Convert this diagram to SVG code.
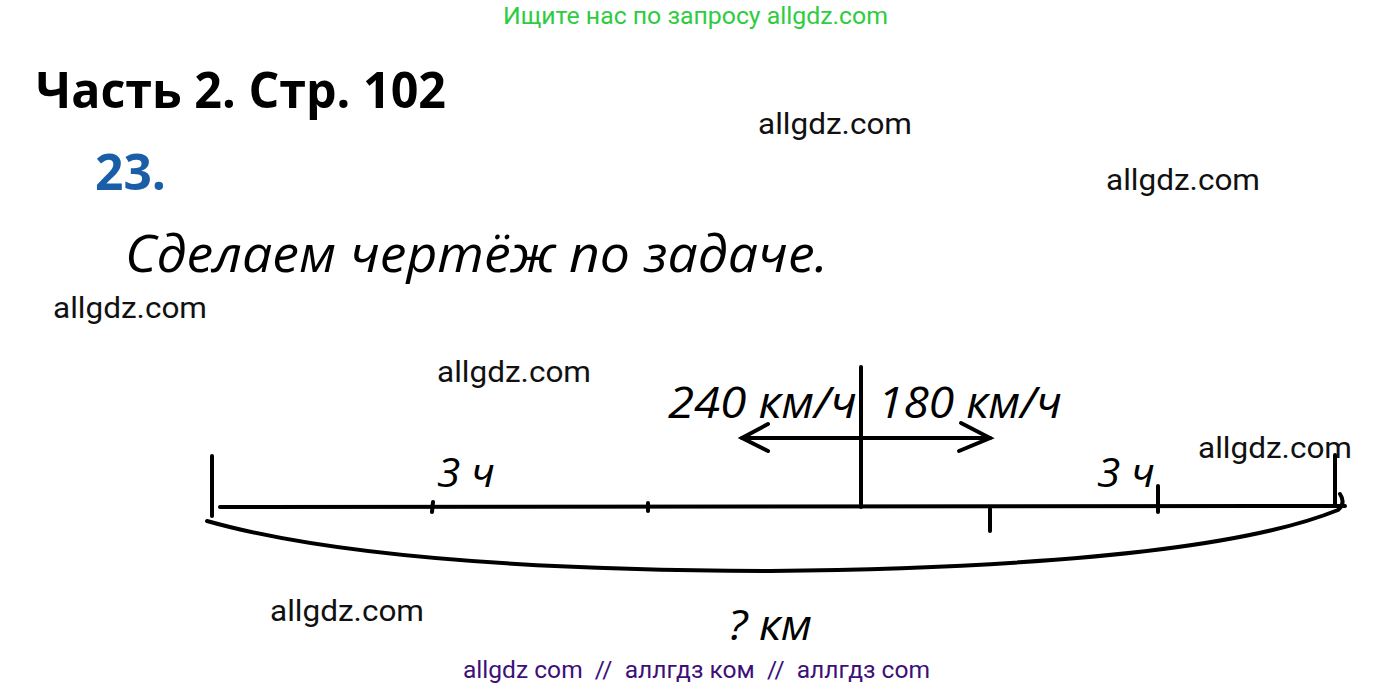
<svg xmlns="http://www.w3.org/2000/svg" width="1395" height="690" viewBox="0 0 1395 690">
<style>
.wm{font-family:Roboto,"Noto Sans",sans-serif;font-size:30px;fill:#111}
.hw{font-family:"Open Sans","Noto Sans",sans-serif;font-style:italic;fill:#000}
.ln{stroke:#000;stroke-width:4;fill:none;stroke-linecap:round}
</style>
<rect width="1395" height="690" fill="#fff"/>
<text x="503" y="24" font-family="Roboto,sans-serif" font-size="24.5" fill="#2ecc40" textLength="385" lengthAdjust="spacingAndGlyphs">Ищите нас по запросу allgdz.com</text>
<g id="title"><text x="36" y="108" font-family="'Open Sans','Noto Sans',sans-serif" font-weight="bold" font-size="50" textLength="410" lengthAdjust="spacingAndGlyphs">Часть 2. Стр. 102</text></g>
<g id="num"><text x="95" y="190" font-family="'Open Sans','Noto Sans',sans-serif" font-weight="bold" font-size="50" fill="#1a5ea8" textLength="71" lengthAdjust="spacingAndGlyphs">23.</text></g>
<g id="heading"><text class="hw" x="125" y="272" font-size="52" textLength="703" lengthAdjust="spacingAndGlyphs">Сделаем чертёж по задаче.</text></g>
<g id="watermarks">
<text class="wm" x="758" y="134" textLength="154" lengthAdjust="spacingAndGlyphs">allgdz.com</text>
<text class="wm" x="1106" y="190" textLength="154" lengthAdjust="spacingAndGlyphs">allgdz.com</text>
<text class="wm" x="53" y="318" textLength="154" lengthAdjust="spacingAndGlyphs">allgdz.com</text>
<text class="wm" x="437" y="382" textLength="154" lengthAdjust="spacingAndGlyphs">allgdz.com</text>
<text class="wm" x="1198" y="458" textLength="154" lengthAdjust="spacingAndGlyphs">allgdz.com</text>
<text class="wm" x="270" y="621" textLength="154" lengthAdjust="spacingAndGlyphs">allgdz.com</text>
</g>
<g id="connectors">
<line class="ln" x1="220" y1="507" x2="1345" y2="506"/>
<line class="ln" x1="212" y1="456" x2="212" y2="516"/>
<line class="ln" x1="433" y1="502" x2="432" y2="512"/>
<line class="ln" x1="648" y1="503" x2="648" y2="511"/>
<line class="ln" x1="861" y1="367" x2="861" y2="507"/>
<line class="ln" x1="990" y1="509" x2="990" y2="531"/>
<line class="ln" x1="1158" y1="486" x2="1158" y2="512"/>
<line class="ln" x1="1335" y1="455" x2="1335" y2="506"/>
<path class="ln" d="M207,521 Q 380,570 770,571 Q 1200,566 1338,510 Q 1346,503 1340,494"/>
<line class="ln" x1="742" y1="438" x2="861" y2="438"/>
<polyline class="ln" points="768,424 742,438 768,451"/>
<line class="ln" x1="861" y1="438" x2="990" y2="438"/>
<polyline class="ln" points="961,423 990,438 959,451"/>
</g>
<g id="speed1"><text class="hw" x="668" y="418" font-size="43" textLength="189" lengthAdjust="spacingAndGlyphs">240 км/ч</text></g>
<g id="speed2"><text class="hw" x="878" y="418" font-size="43" textLength="184" lengthAdjust="spacingAndGlyphs">180 км/ч</text></g>
<g id="time1"><text class="hw" x="437" y="487" font-size="40" textLength="58" lengthAdjust="spacingAndGlyphs">3 ч</text></g>
<g id="time2"><text class="hw" x="1097" y="487" font-size="40" textLength="58" lengthAdjust="spacingAndGlyphs">3 ч</text></g>
<g id="dist"><text class="hw" x="728" y="640" font-size="42" textLength="84" lengthAdjust="spacingAndGlyphs">? км</text></g>
<text x="463" y="678" font-family="Roboto,sans-serif" font-size="24" fill="#3d1078" xml:space="preserve" style="white-space:pre" textLength="467" lengthAdjust="spacingAndGlyphs">allgdz com  //  аллгдз ком  //  аллгдз com</text>
</svg>
